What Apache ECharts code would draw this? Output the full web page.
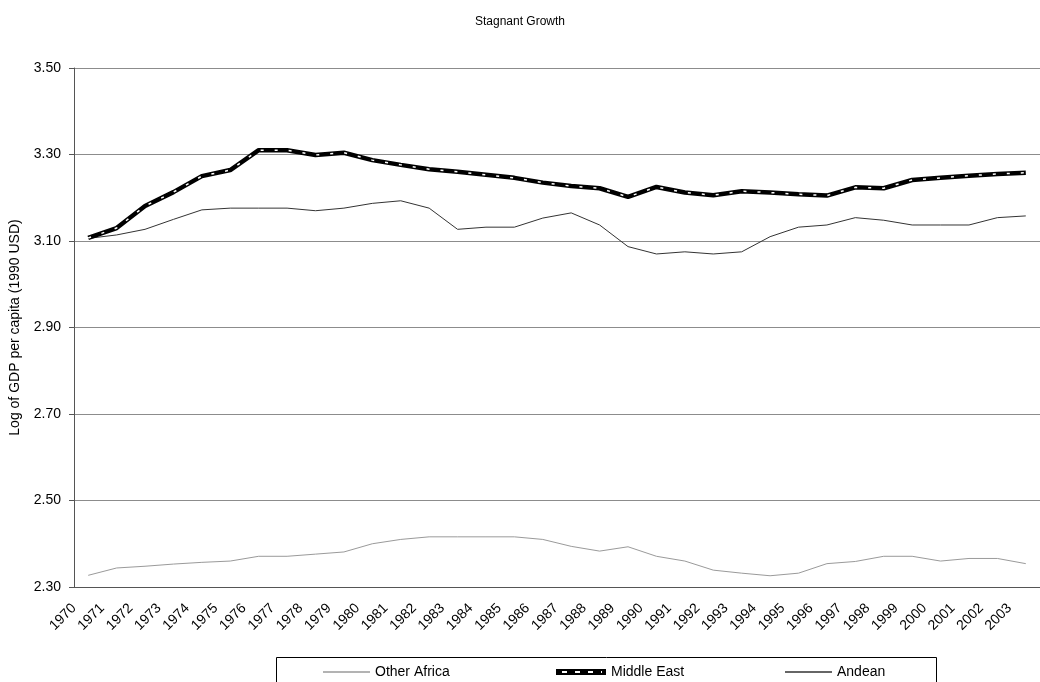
<!DOCTYPE html>
<html>
<head>
<meta charset="utf-8">
<script src="https://cdn.jsdelivr.net/npm/echarts@6/dist/echarts.min.js"></script>
<style>
  html, body { margin: 0; padding: 0; background: #fff; }
  #chart { width: 1040px; height: 682px; }
</style>
</head>
<body>
<div id="chart"></div>
<script>
// 年份 (category axis)
const years = ['1970', '1971', '1972', '1973', '1974', '1975', '1976', '1977', '1978', '1979',
  '1980', '1981', '1982', '1983', '1984', '1985', '1986', '1987', '1988', '1989',
  '1990', '1991', '1992', '1993', '1994', '1995', '1996', '1997', '1998', '1999',
  '2000', '2001', '2002', '2003'];

// log GDP per capita
const otherAfrica = [2.327, 2.344, 2.348, 2.353, 2.357, 2.360, 2.371, 2.371, 2.376, 2.381,
  2.400, 2.410, 2.416, 2.416, 2.416, 2.416, 2.410, 2.394, 2.383, 2.393,
  2.371, 2.360, 2.339, 2.332, 2.326, 2.332, 2.354, 2.359, 2.371, 2.371,
  2.360, 2.366, 2.366, 2.354];
const middleEast = [3.107, 3.130, 3.181, 3.213, 3.250, 3.264, 3.310, 3.310, 3.299, 3.304,
  3.287, 3.276, 3.266, 3.260, 3.253, 3.246, 3.235, 3.227, 3.222, 3.202,
  3.225, 3.212, 3.206, 3.215, 3.212, 3.208, 3.205, 3.224, 3.222, 3.241,
  3.246, 3.251, 3.255, 3.258];
const andean = [3.106, 3.114, 3.127, 3.150, 3.172, 3.176, 3.176, 3.176, 3.170, 3.176,
  3.187, 3.193, 3.176, 3.127, 3.132, 3.132, 3.153, 3.165, 3.137, 3.087,
  3.070, 3.075, 3.070, 3.075, 3.110, 3.132, 3.137, 3.154, 3.148, 3.137,
  3.137, 3.137, 3.154, 3.158];

// y axis ticks
const yMin = 2.3;
const yMax = 3.5;
const yStep = 0.2;

const FONT = '"Liberation Sans", Arial, sans-serif';

// legend sample for Middle East: thick black with white dashes
const meIcon = 'image://data:image/svg+xml;charset=utf-8,' + encodeURIComponent(
  '<svg xmlns="http://www.w3.org/2000/svg" width="50" height="6">' +
  '<rect width="50" height="6" fill="#000"/>' +
  '<path d="M6 3H46" stroke="#fff" stroke-width="2" stroke-dasharray="5 8"/></svg>');

const chart = echarts.init(document.getElementById('chart'));

function legendItem(name, left, icon, w, h) {
  return {
    data: [{ name: name, icon: icon }],
    left: left,
    top: 660,
    itemWidth: w,
    itemHeight: h,
    itemGap: 0,
    selectedMode: false,
    textStyle: { fontFamily: FONT, fontSize: 14, color: '#000' }
  };
}

chart.setOption({
  animation: false,
  backgroundColor: '#fff',
  title: {
    text: 'Stagnant Growth',
    left: 'center',
    top: 11,
    textStyle: { fontFamily: FONT, fontSize: 12, fontWeight: 'normal', color: '#000' }
  },
  legend: [
    legendItem('Other Africa', 318, 'rect', 47, 1.5),
    legendItem('Middle East', 551, meIcon, 50, 6),
    legendItem('Andean', 780, 'rect', 47, 1.5)
  ],
  graphic: [{
    type: 'rect',
    left: 274,
    top: 655,
    silent: true,
    z: -10,
    shape: { width: 660, height: 32 },
    style: { fill: 'none', stroke: '#000', lineWidth: 1 }
  }],
  grid: [
    { left: 71, top: 68, width: 970, height: 519 },
    // same plot, nudged a little right: holds only the year labels
    { left: 74, top: 68, width: 970, height: 519 }
  ],
  xAxis: [
    {
      type: 'category',
      data: years,
      boundaryGap: true,
      axisLine: { lineStyle: { color: '#555', width: 1 } },
      axisTick: { length: 5, lineStyle: { color: '#555' } },
      axisLabel: { show: false },
      splitLine: { show: false }
    },
    {
      // labels sit on the tick marks, not on the category centre
      type: 'category',
      gridIndex: 1,
      data: years.concat(['']),
      boundaryGap: false,
      axisLine: { show: false },
      axisTick: { show: false },
      axisLabel: {
        rotate: 45, interval: 0, margin: 19,
        fontFamily: FONT, fontSize: 14, color: '#000'
      },
      splitLine: { show: false }
    }
  ],
  yAxis: [
    {
      type: 'value',
      min: yMin,
      max: yMax,
      interval: yStep,
      name: 'Log of GDP per capita (1990 USD)',
      nameLocation: 'middle',
      nameGap: 52,
      nameTextStyle: { fontFamily: FONT, fontSize: 14, color: '#000' },
      axisLine: { show: true, lineStyle: { color: '#555', width: 1 } },
      axisTick: { show: true, length: 5, lineStyle: { color: '#555' } },
      axisLabel: {
        margin: 13, fontFamily: FONT, fontSize: 14, color: '#000',
        formatter: v => v.toFixed(2)
      },
      splitLine: { lineStyle: { color: '#8c8c8c', width: 1 } }
    },
    {
      type: 'value', gridIndex: 1, min: yMin, max: yMax, interval: yStep,
      show: false, splitLine: { show: false }
    }
  ],
  series: [
    {
      name: 'Other Africa', type: 'line', data: otherAfrica,
      symbol: 'none', itemStyle: { color: '#9a9a9a' },
      lineStyle: { color: '#9a9a9a', width: 1 }
    },
    {
      name: 'Andean', type: 'line', data: andean,
      symbol: 'none', itemStyle: { color: '#333' },
      lineStyle: { color: '#333', width: 1 }
    },
    {
      name: 'Middle East', type: 'line', data: middleEast,
      symbol: 'none', itemStyle: { color: '#000' },
      lineStyle: { color: '#000', width: 4.5 }
    },
    {
      // white dashes drawn inside the thick Middle East line
      name: 'Middle East dashes', type: 'line', data: middleEast,
      symbol: 'none', silent: true,
      lineStyle: { color: '#fff', width: 1.5, type: [3, 11] }
    }
  ]
});
</script>
</body>
</html>
